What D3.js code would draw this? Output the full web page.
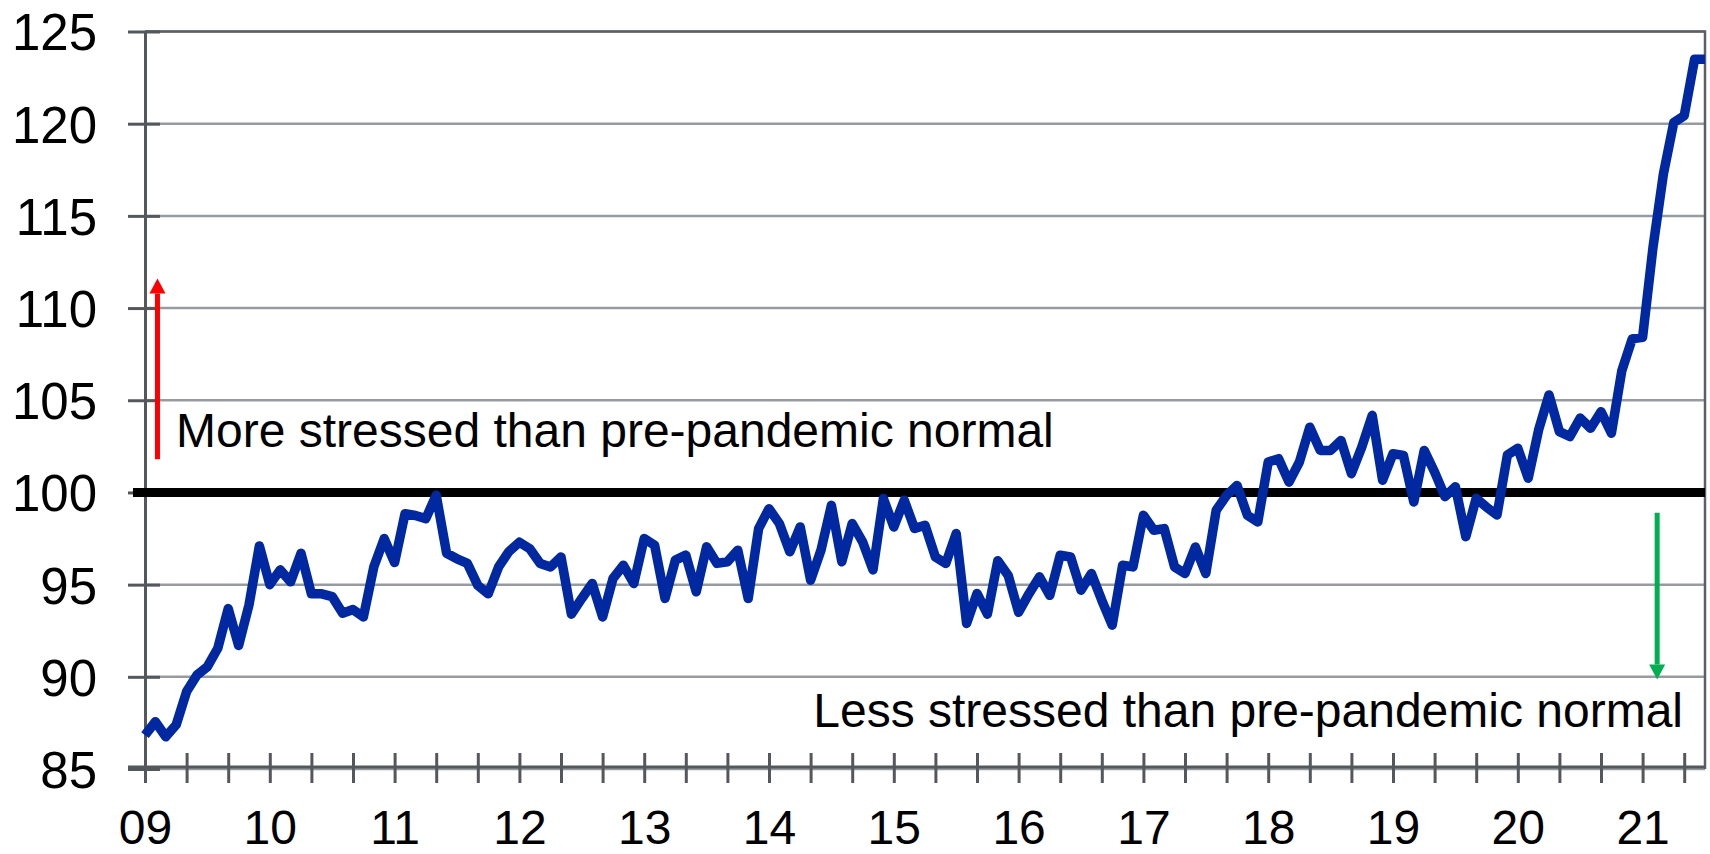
<!DOCTYPE html>
<html lang="en">
<head>
  <meta charset="UTF-8">
  <title>Stress index vs pre-pandemic normal</title>
  <script src="https://d3js.org/d3.v7.min.js"></script>
  <style>
    html, body {
      margin: 0;
      padding: 0;
      background: #fff;
    }
    svg text {
      font-family: 'Liberation Sans', Arial, sans-serif;
      fill: #000;
    }
  </style>
</head>
<body>
  <svg id="chart" width="1710" height="854"></svg>

  <script>
    // monthly index, Jan 2009 .. Jul 2021
    const values = [
      86.84, 87.56, 86.75, 87.4, 89.2, 90.1, 90.55, 91.55, 93.7, 91.7, 93.9, 97.1,
      95.0, 95.8, 95.15, 96.7, 94.5, 94.5, 94.35, 93.45, 93.65, 93.25, 95.96, 97.5,
      96.2, 98.85, 98.75, 98.58, 99.85, 96.7, 96.4, 96.15, 94.96, 94.5, 95.96, 96.8,
      97.3, 96.95, 96.15, 95.96, 96.5, 93.4, 94.25, 95.06, 93.25, 95.33, 96.05, 95.06,
      97.5, 97.14, 94.25, 96.33, 96.6, 94.61, 97.05, 96.15, 96.24, 96.87, 94.25, 98.04,
      99.12, 98.31, 96.78, 98.13, 95.24, 96.87, 99.3, 96.24, 98.31, 97.32, 95.8, 99.67,
      98.13, 99.58, 98.04, 98.22, 96.5, 96.15, 97.77, 92.89, 94.52, 93.4, 96.3, 95.5,
      93.5, 94.51, 95.42, 94.42, 96.59, 96.5, 94.7, 95.6, 94.15, 92.8, 96.05, 95.96,
      98.76, 97.95, 98.04, 95.96, 95.6, 97.04, 95.6, 99.03, 99.84, 100.38, 98.76, 98.4,
      101.65, 101.83, 100.56, 101.65, 103.54, 102.28, 102.28, 102.82, 101.02, 102.46, 104.18, 100.66,
      102.1, 102.01, 99.48, 102.28, 101.11, 99.77, 100.31, 97.6, 99.68, 99.2, 98.78, 102.03,
      102.4, 100.77, 103.39, 105.29, 103.3, 103.03, 104.03, 103.48, 104.38, 103.21, 106.6, 108.33,
      108.42, 113.3, 117.27, 120.07, 120.43, 123.5, 123.5
    ];
    const yTicks = [85, 90, 95, 100, 105, 110, 115, 120, 125];
    const yearLabels = ["09", "10", "11", "12", "13", "14", "15", "16", "17", "18", "19", "20", "21"];
    const baseline = 100;

    const svg = d3.select("#chart");
    const plotLeft = 145, plotRight = 1705, plotTop = 31.5, plotBottom = 769;

    const x = d3.scaleLinear().domain([0, values.length - 1]).range([plotLeft, plotRight]);
    const y = d3.scaleLinear().domain([85, 125]).range([plotBottom, plotTop]);

    // gridlines
    svg.append("g")
      .selectAll("line")
      .data(yTicks)
      .join("line")
      .attr("x1", plotLeft)
      .attr("x2", plotRight)
      .attr("y1", d => y(d))
      .attr("y2", d => y(d))
      .attr("stroke", "#979b9f")
      .attr("stroke-width", 2.5);

    // plot border (top + right)
    svg.append("path")
      .attr("d", `M${plotLeft},${plotTop}H${plotRight}V${plotBottom}`)
      .attr("fill", "none")
      .attr("stroke", "#5c6064")
      .attr("stroke-width", 2.5);

    // y axis
    const yAxis = svg.append("g")
      .attr("transform", `translate(${plotLeft},0)`)
      .call(d3.axisLeft(y).tickValues(yTicks).tickSize(0).tickPadding(48));
    yAxis.select(".domain").attr("stroke", "#54585c").attr("stroke-width", 3);
    yAxis.selectAll(".tick line")
      .attr("x1", -17).attr("x2", 15)
      .attr("stroke", "#54585c").attr("stroke-width", 3);
    yAxis.selectAll(".tick text")
      .attr("font-size", 51)
      .attr("dy", "0.36em");

    // x axis, ticks every 4 months, labels every year
    const xAxis = svg.append("g")
      .attr("transform", `translate(0,${plotBottom - 2})`)
      .call(d3.axisBottom(x)
        .tickValues(d3.range(0, values.length, 4))
        .tickSize(0)
        .tickFormat(i => i % 12 === 0 ? yearLabels[i / 12] : ""));
    xAxis.select(".domain").attr("stroke", "#54585c").attr("stroke-width", 3)
      .attr("d", `M${plotLeft - 17},0H${plotRight}`);
    xAxis.selectAll(".tick line")
      .attr("y1", -14).attr("y2", 16)
      .attr("stroke", "#54585c").attr("stroke-width", 3);
    xAxis.selectAll(".tick text")
      .attr("font-size", 48)
      .attr("y", 77)
      .attr("dy", 0);

    // pre-pandemic normal
    svg.append("line")
      .attr("x1", plotLeft - 12)
      .attr("x2", plotRight)
      .attr("y1", y(baseline))
      .attr("y2", y(baseline))
      .attr("stroke", "#000")
      .attr("stroke-width", 9);

    // series
    const line = d3.line()
      .x((d, i) => x(i))
      .y(d => y(d));

    svg.append("path")
      .datum(values)
      .attr("fill", "none")
      .attr("stroke", "#0029a1")
      .attr("stroke-width", 9.5)
      .attr("stroke-linejoin", "round")
      .attr("d", line);

    // annotations
    function arrow(xv, fromV, toV, color) {
      const ax = x(xv), y0 = y(fromV), y1 = y(toV);
      const dir = y1 < y0 ? 1 : -1;
      svg.append("line")
        .attr("x1", ax).attr("x2", ax)
        .attr("y1", y0).attr("y2", y1 + dir * 15)
        .attr("stroke", color)
        .attr("stroke-width", 5);
      svg.append("path")
        .attr("d", `M${ax - 8},${y1 + dir * 15}L${ax + 8},${y1 + dir * 15}L${ax},${y1}Z`)
        .attr("fill", color);
    }
    arrow(1.2, 101.8, 111.6, "#ff0000");
    arrow(145.4, 98.9, 89.85, "#00b050");

    svg.append("text")
      .attr("x", 176)
      .attr("y", 447)
      .attr("font-size", 48)
      .text("More stressed than pre-pandemic normal");

    svg.append("text")
      .attr("x", 1683)
      .attr("y", 727)
      .attr("text-anchor", "end")
      .attr("font-size", 48)
      .text("Less stressed than pre-pandemic normal");
  </script>
</body>
</html>
